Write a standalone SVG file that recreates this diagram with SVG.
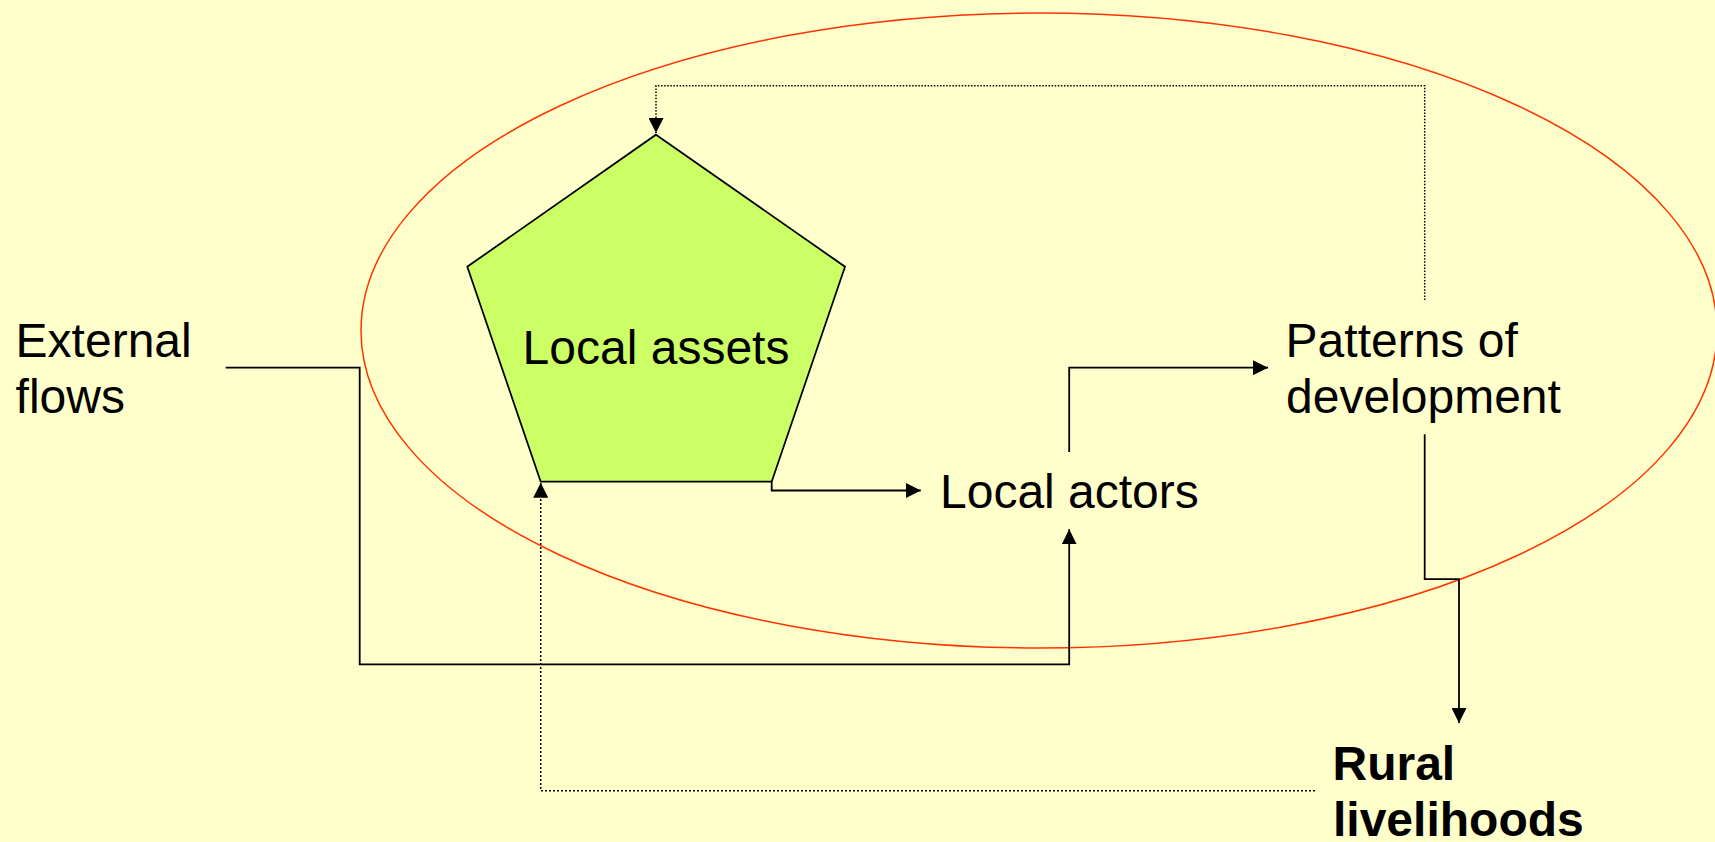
<svg xmlns="http://www.w3.org/2000/svg" width="1715" height="842" viewBox="0 0 1715 842">
<style>
.lbl{font-family:"Liberation Sans",Arial,sans-serif;font-size:48px;fill:#000}
.bold{font-weight:bold}
.conn{fill:none;stroke:#000;stroke-width:1.8}
.dot{fill:none;stroke:#000;stroke-width:1.5;stroke-dasharray:1.5 1.6}
</style>
<defs>
<marker id="arr" markerUnits="userSpaceOnUse" viewBox="0 0 15 15" markerWidth="15" markerHeight="15" refX="15" refY="7.5" orient="auto">
<path d="M0,0 L15,7.5 L0,15 Z" fill="#000"/>
</marker>
</defs>
<rect width="1715" height="842" fill="#FFFFCC"/>
<g id="boundary">
<ellipse cx="1039" cy="330.5" rx="678" ry="317.5" fill="none" stroke="#FF3300" stroke-width="1.5"/>
</g>
<g id="local-assets">
<polygon points="656,134.7 845,266.7 771.7,481.7 540.7,481.7 467.3,266.7" fill="#CCFF66" stroke="#000" stroke-width="1.8" stroke-linejoin="miter"/>
<text class="lbl" x="656" y="364" text-anchor="middle">Local assets</text>
</g>
<g id="external-flows">
<text class="lbl" x="15.6" y="357.3">External</text>
<text class="lbl" x="15.6" y="413.3">flows</text>
</g>
<g id="local-actors">
<text class="lbl" x="1069.4" y="507.7" text-anchor="middle">Local actors</text>
</g>
<g id="patterns">
<text class="lbl" x="1285.6" y="356.7">Patterns of</text>
<text class="lbl" x="1286" y="413.3">development</text>
</g>
<g id="rural-livelihoods">
<text class="lbl bold" x="1332.5" y="780">Rural</text>
<text class="lbl bold" x="1333" y="835.5">livelihoods</text>
</g>
<g id="connectors">
<path class="conn" d="M225.7,367.7 H359.7 V664.3 H1069.2 V529.3" marker-end="url(#arr)"/>
<path class="conn" d="M771.7,481.7 V490.5 H920.8" marker-end="url(#arr)"/>
<path class="conn" d="M1069.2,452 V367.7 H1268" marker-end="url(#arr)"/>
<path class="conn" d="M1424.7,434.3 V579.2 H1459 V723" marker-end="url(#arr)"/>
<path class="dot" d="M1424.7,300 V85.7 H656 V133" marker-end="url(#arr)"/>
<path class="dot" d="M1315,790.7 H540.7 V482.7" marker-end="url(#arr)" style="stroke-dasharray:2 2"/>
</g>
</svg>
